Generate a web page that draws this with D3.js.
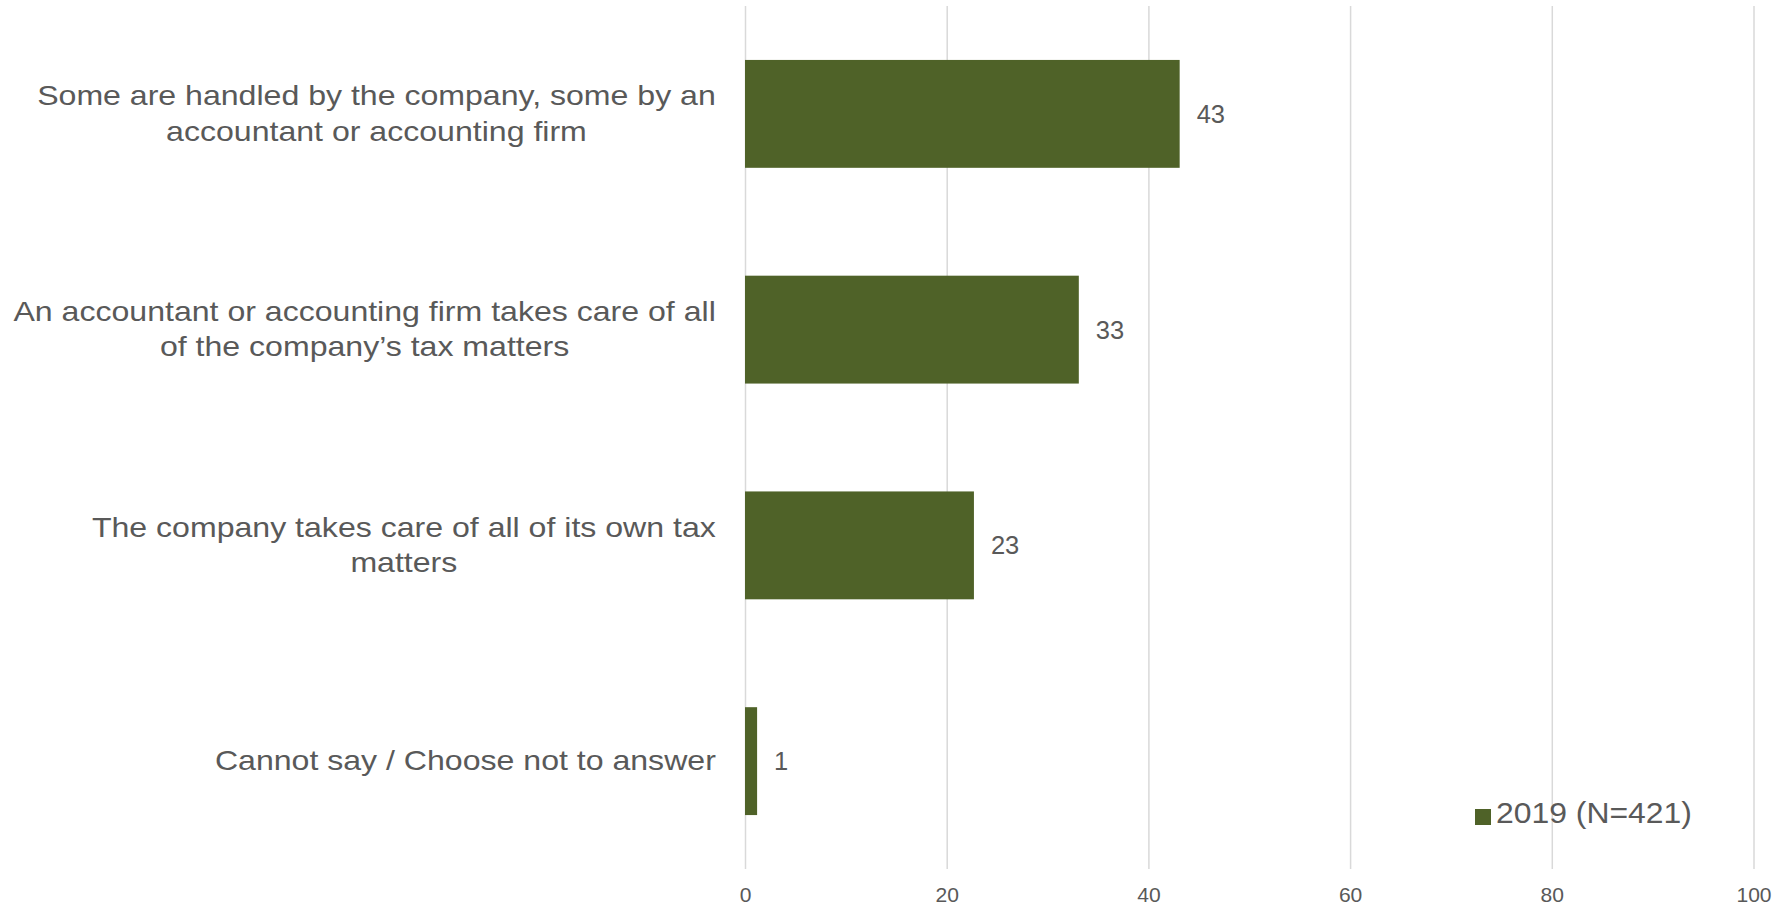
<!DOCTYPE html>
<html>
<head>
<meta charset="utf-8">
<script src="https://cdn.jsdelivr.net/npm/d3@7"></script>
<style>
  html, body { margin: 0; padding: 0; background: #fff; }
  svg { display: block; font-family: "Liberation Sans", Arial, sans-serif; }
</style>
</head>
<body>
<svg id="chart" width="1777" height="909"></svg>
<script>
const categories = [
  ["Some are handled by the company, some by an", "accountant or accounting firm"],
  ["An accountant or accounting firm takes care of all", "of the company’s tax matters"],
  ["The company takes care of all of its own tax", "matters"],
  ["Cannot say / Choose not to answer"]
];
const values2019 = [43.1, 33.1, 22.7, 1.2];
const xTicks = [0, 20, 40, 60, 80, 100];
const seriesName = "2019 (N=421)";

(function () {
const plotLeft = 745, plotRight = 1753.5, plotTop = 6, plotBottom = 869;
const barColor = "#4F6228", textColor = "#595959", gridColor = "#D9D9D9";

const svg = d3.select("#chart");
const x = d3.scaleLinear().domain([0, 100]).range([plotLeft, plotRight]);
const y = d3.scaleBand().domain(d3.range(categories.length)).range([plotTop, plotBottom]).paddingInner(0.5).paddingOuter(0.25);

// gridlines
svg.append("g").selectAll("line").data(xTicks).join("line")
  .attr("x1", d => x(d) + 0.5).attr("x2", d => x(d) + 0.5)
  .attr("y1", plotTop).attr("y2", 869)
  .attr("stroke", gridColor).attr("stroke-width", 1.5);

// tick labels via axis
const axis = svg.append("g").attr("transform", `translate(0,${869})`)
  .call(d3.axisBottom(x).tickValues(xTicks).tickSize(0).tickPadding(19));
axis.select(".domain").remove();
axis.selectAll(".tick text").each(function () {
  const t = d3.select(this);
  const yy = +t.attr("y");
  t.attr("y", null).attr("transform", `translate(0,${yy}) scale(1.08,1)`)
   .attr("fill", textColor).attr("font-size", 19.5)
   .attr("font-family", "Liberation Sans, Arial, sans-serif");
});

// bars
svg.append("g").selectAll("rect").data(values2019).join("rect")
  .attr("x", x(0)).attr("y", (d, i) => y(i))
  .attr("width", d => x(d) - x(0)).attr("height", y.bandwidth())
  .attr("fill", barColor);

// data labels
const fmt = d3.format(".0f");
svg.append("g").selectAll("text").data(values2019).join("text")
  .attr("x", d => x(d) + 17).attr("y", (d, i) => y(i) + y.bandwidth() / 2)
  .attr("dy", "0.35em").attr("fill", textColor).attr("font-size", 25.5)
  .text(d => fmt(d));

// category labels (lines centered within a right-aligned block)
const labelRight = 716, lineH = 35.5, catFont = 28.5, sx = 1.126;
categories.forEach((lines, i) => {
  const cy = y(i) + y.bandwidth() / 2;
  const g = svg.append("g");
  const texts = lines.map((ln, j) => g.append("text")
    .attr("font-size", catFont).attr("fill", textColor)
    .attr("text-anchor", "middle").attr("dy", "0.35em")
    .text(ln));
  const maxW = d3.max(texts, t => t.node().getComputedTextLength()) * sx;
  texts.forEach((t, j) => t.attr("transform",
    `translate(${labelRight - maxW / 2},${cy - 1 + (j - (lines.length - 1) / 2) * lineH}) scale(${sx},1)`));
});

// legend
const lg = svg.append("g");
lg.append("rect").attr("x", 1475).attr("y", 809).attr("width", 16).attr("height", 16).attr("fill", barColor);
lg.append("text").attr("transform", "translate(1496,813) scale(1.1,1)").attr("dy", "0.35em")
  .attr("font-size", 29).attr("fill", textColor).text(seriesName);
})();
</script>
</body>
</html>
